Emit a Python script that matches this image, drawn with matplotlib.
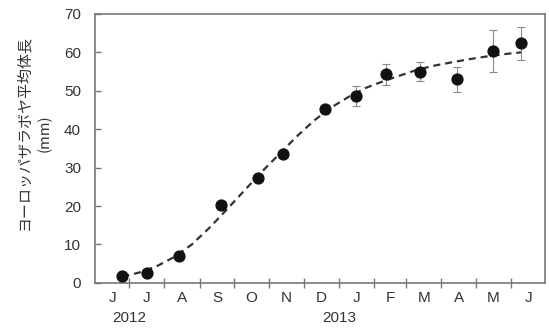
import datetime as dt

import matplotlib
import matplotlib.pyplot as plt
import matplotlib.transforms as mtransforms

matplotlib.use('Agg')
plt.rcParams['font.family'] = ['Liberation Sans', 'Noto Sans CJK JP', 'DejaVu Sans']

# Sampling dates and mean body length (mm) with error bars
sample_dates = ['2012-06-25', '2012-07-17', '2012-08-14', '2012-09-20',
                '2012-10-22', '2012-11-13', '2012-12-20', '2013-01-16',
                '2013-02-11', '2013-03-13', '2013-04-15', '2013-05-16',
                '2013-06-10']
mean_length = [1.8, 2.6, 7.0, 20.2, 27.3, 33.6, 45.2, 48.7, 54.3, 55.0, 53.0, 60.4, 62.4]
err_length = [0.3, 0.4, 0.6, 0.8, 0.8, 0.9, 1.2, 2.6, 2.7, 2.4, 3.3, 5.4, 4.3]

# Growth curve fitted through the means
fit_dates = ['2012-06-25', '2012-07-10', '2012-07-25', '2012-08-10', '2012-08-25',
             '2012-09-10', '2012-09-25', '2012-10-10', '2012-10-25', '2012-11-10',
             '2012-11-25', '2012-12-10', '2012-12-25', '2013-01-10', '2013-01-25',
             '2013-02-10', '2013-02-25', '2013-03-10', '2013-03-25', '2013-04-10',
             '2013-04-25', '2013-05-10', '2013-05-25', '2013-06-10']
fit_length = [1.6, 2.7, 4.3, 6.8, 10.0, 14.5, 19.2, 24.0, 28.8, 33.6, 38.1, 42.2,
              45.6, 48.5, 50.8, 52.6, 54.1, 55.4, 56.5, 57.4, 58.2, 58.9, 59.5, 60.0]

month_letters = ['J', 'J', 'A', 'S', 'O', 'N', 'D', 'J', 'F', 'M', 'A', 'M', 'J']
year_labels = {'2012': '2012-07-01', '2013': '2013-01-01'}


def to_date(s):
    return dt.datetime.strptime(s, '%Y-%m-%d')


fig = plt.figure(figsize=(5.49, 3.32), dpi=100)
ax = fig.add_axes([0.173, 0.148, 0.820, 0.810])

ax.plot([to_date(d) for d in fit_dates], fit_length, linestyle=(0, (3.2, 2.2)),
        color='#333333', linewidth=1.6, zorder=2)
ax.errorbar([to_date(d) for d in sample_dates], mean_length, yerr=err_length,
            fmt='o', color='#111111', markersize=7.8, ecolor='#8a8a8a',
            elinewidth=0.8, capsize=3, capthick=0.8, zorder=3)

ax.set_xlim(dt.datetime(2012, 6, 1), dt.datetime(2013, 7, 1))
ax.set_ylim(0, 70)
ax.set_yticks(range(0, 71, 10))

# Month boundaries as tick marks, letters centred within each month
month_starts = [dt.datetime(2012 + (5 + i) // 12, (5 + i) % 12 + 1, 1) for i in range(14)]
ax.set_xticks(month_starts[1:-1])
ax.set_xticklabels([])
mids = [a + (b - a) / 2 for a, b in zip(month_starts[:-1], month_starts[1:])]
ax.set_xticks(mids, minor=True)
ax.set_xticklabels(month_letters, minor=True)
ax.tick_params(axis='x', which='minor', length=0, pad=6, labelsize=11,
               labelcolor='#333333')
ax.tick_params(axis='x', which='major', direction='inout', length=7, width=1,
               color='#777777')
ax.tick_params(axis='y', direction='in', length=4, width=1, color='#777777',
               pad=10, labelsize=11, labelcolor='#333333')

trans = mtransforms.blended_transform_factory(ax.transData, ax.transAxes)
for year, pos in year_labels.items():
    ax.text(to_date(pos), -0.105, year, transform=trans, ha='center', va='top',
            fontsize=11, color='#333333')

for spine in ax.spines.values():
    spine.set_color('#777777')
    spine.set_linewidth(1.2)

ax.set_ylabel('ヨーロッパザラボヤ平均体長\n(mm)', fontsize=10.8, color='#333333',
              family=['Noto Sans CJK JP', 'DejaVu Sans'], linespacing=1.6)
ax.yaxis.set_label_coords(-0.095, 0.558)

fig.savefig('out.png', dpi=100)
